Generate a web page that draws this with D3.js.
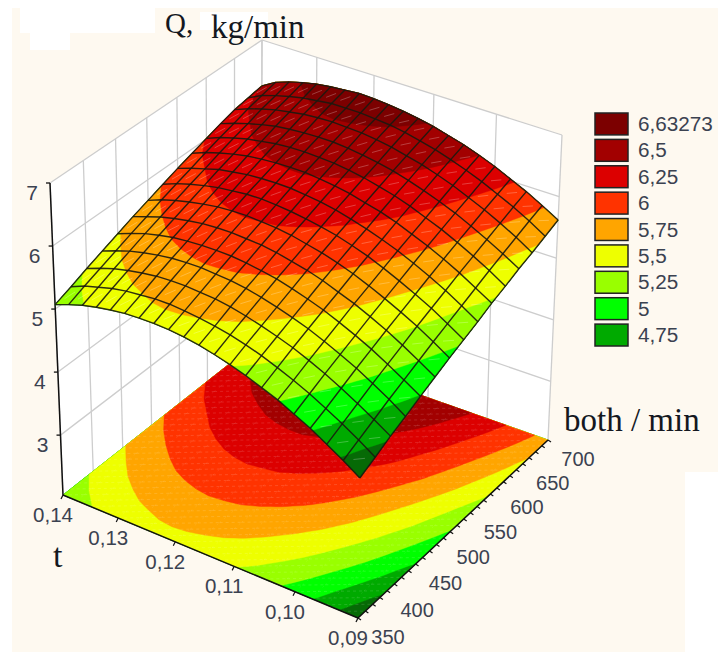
<!DOCTYPE html>
<html lang="en">
<head>
<meta charset="utf-8">
<title>Q surface</title>
<script src="https://cdnjs.cloudflare.com/ajax/libs/d3/7.8.5/d3.min.js"></script>
<style>
  html, body { margin: 0; padding: 0; background: #fff; }
  svg { display: block; }
  .num { font-family: "Liberation Sans", Arial, sans-serif; fill: #3b4250; }
  .ttl { font-family: "Liberation Serif", "Times New Roman", serif; fill: #14181f; }
</style>
</head>
<body>
<div id="chart"></div>
<script>
const tTicks = [0.14, 0.13, 0.12, 0.11, 0.10, 0.09];
const bothTicks = [350, 400, 450, 500, 550, 600, 650, 700];
const qTicks = [3, 4, 5, 6, 7];

const legendLabels = ["6,63273", "6,5", "6,25", "6", "5,75", "5,5", "5,25", "5", "4,75"];
const legendColors = ["#7c0000", "#a20000", "#dc0000", "#ff3300", "#ffa500", "#eeff00", "#99ff00", "#00ff00", "#00aa00"];
// lower edge of each band, darkest green first
const bandEdges = [4.5, 4.75, 5, 5.25, 5.5, 5.75, 6, 6.25, 6.5];
const bandColors = ["#00aa00", "#00ff00", "#99ff00", "#eeff00", "#ffa500", "#ff3300", "#dc0000", "#a20000", "#7c0000"];
const lowestColor = "#066a06";

// mesh nodes: t along a row, both down the rows
const tGrid = [0.14, 0.1375, 0.135, 0.1325, 0.13, 0.1275, 0.125, 0.1225, 0.12, 0.1175, 0.115,
  0.1125, 0.11, 0.1075, 0.105, 0.1025, 0.10, 0.0975, 0.095, 0.0925, 0.09];
const bothGrid = [350, 375, 400, 425, 450, 475, 500, 525, 550, 575, 600, 625, 650, 675, 700];

const qRows = [
  [5.07,5.16,5.24,5.30,5.35,5.39,5.41,5.42,5.42,5.40,5.37,5.32,5.26,5.19,5.10,5.01,4.89,4.77,4.62,4.47,4.30],
  [5.17,5.27,5.34,5.41,5.46,5.49,5.52,5.53,5.52,5.50,5.47,5.43,5.37,5.30,5.21,5.11,5.00,4.87,4.73,4.58,4.41],
  [5.28,5.37,5.45,5.51,5.56,5.60,5.62,5.63,5.62,5.61,5.58,5.53,5.47,5.40,5.32,5.22,5.11,4.98,4.84,4.69,4.53],
  [5.38,5.47,5.55,5.61,5.66,5.70,5.72,5.73,5.72,5.71,5.68,5.63,5.57,5.50,5.42,5.32,5.21,5.09,4.95,4.80,4.63],
  [5.48,5.57,5.65,5.71,5.76,5.79,5.81,5.82,5.82,5.80,5.77,5.73,5.67,5.60,5.52,5.42,5.31,5.19,5.05,4.90,4.74],
  [5.58,5.66,5.74,5.80,5.85,5.89,5.91,5.92,5.91,5.90,5.87,5.82,5.77,5.70,5.61,5.52,5.41,5.29,5.15,5.00,4.84],
  [5.67,5.76,5.83,5.89,5.94,5.98,6.00,6.01,6.00,5.99,5.96,5.91,5.86,5.79,5.71,5.61,5.50,5.38,5.25,5.10,4.94],
  [5.76,5.85,5.92,5.98,6.03,6.06,6.09,6.10,6.09,6.07,6.04,6.00,5.95,5.88,5.80,5.70,5.59,5.47,5.34,5.19,5.03],
  [5.85,5.93,6.00,6.07,6.11,6.15,6.17,6.18,6.18,6.16,6.13,6.09,6.03,5.96,5.88,5.79,5.68,5.56,5.43,5.28,5.12],
  [5.93,6.02,6.09,6.15,6.20,6.23,6.25,6.26,6.26,6.24,6.21,6.17,6.11,6.05,5.97,5.87,5.77,5.65,5.52,5.37,5.22],
  [6.01,6.10,6.17,6.23,6.27,6.31,6.33,6.34,6.33,6.32,6.29,6.25,6.19,6.13,6.05,5.95,5.85,5.73,5.60,5.46,5.30],
  [6.09,6.17,6.24,6.30,6.35,6.38,6.40,6.41,6.41,6.39,6.36,6.32,6.27,6.20,6.12,6.03,5.93,5.81,5.68,5.54,5.39],
  [6.16,6.25,6.32,6.38,6.42,6.46,6.48,6.49,6.48,6.47,6.44,6.40,6.34,6.28,6.20,6.11,6.00,5.89,5.76,5.62,5.46],
  [6.20,6.31,6.38,6.44,6.49,6.52,6.55,6.55,6.55,6.53,6.51,6.47,6.41,6.35,6.27,6.18,6.08,5.96,5.84,5.70,5.54],
  [6.24,6.37,6.45,6.51,6.56,6.59,6.61,6.63,6.62,6.60,6.57,6.53,6.48,6.41,6.34,6.25,6.15,6.03,5.91,5.77,5.62]
];

const w = 718;
const h = 652;

// box corners on screen: L = t .14/both 350, F = t .09/both 350, R = t .09/both 700, B = t .14/both 700
const floorQuad = [[63, 495], [358, 618], [548, 440], [261, 339]];
const roofQuad = [[50, 183], [362, 310], [562, 135], [262, 40]];

const uScale = d3.scaleLinear().domain([0.14, 0.09]).range([0, 1]);
const fScale = d3.scaleLinear().domain([350, 700]).range([0, 1]);
const zScale = d3.scaleLinear().domain([2.05, 7]).range([0, 1]);

// unit square -> quad, plain projective map
function quadMap(q) {
  const [p0, p1, p2, p3] = q;
  const dx1 = p1[0] - p2[0], dx2 = p3[0] - p2[0], sx = p0[0] - p1[0] + p2[0] - p3[0];
  const dy1 = p1[1] - p2[1], dy2 = p3[1] - p2[1], sy = p0[1] - p1[1] + p2[1] - p3[1];
  const den = dx1 * dy2 - dx2 * dy1;
  const g = (sx * dy2 - dx2 * sy) / den;
  const k = (dx1 * sy - sx * dy1) / den;
  const a = p1[0] - p0[0] + g * p1[0], b = p3[0] - p0[0] + k * p3[0];
  const d = p1[1] - p0[1] + g * p1[1], e = p3[1] - p0[1] + k * p3[1];
  return (u, f) => {
    const n = g * u + k * f + 1;
    return [(a * u + b * f + p0[0]) / n, (d * u + e * f + p0[1]) / n];
  };
}
const floorMap = quadMap(floorQuad);
const roofMap = quadMap(roofQuad);

function project(u, f, z) {
  const lo = floorMap(u, f), hi = roofMap(u, f);
  return [lo[0] + (hi[0] - lo[0]) * z, lo[1] + (hi[1] - lo[1]) * z];
}
const onAxes = (t, both, q) => project(uScale(t), fScale(both), zScale(q));

const svg = d3.select("#chart").append("svg").attr("width", w).attr("height", h);

// paper
svg.append("rect").attr("x", 12).attr("y", 8).attr("width", w - 12).attr("height", h - 8).attr("fill", "#fef9f0");
svg.append("rect").attr("x", 20).attr("y", 8).attr("width", 135).attr("height", 25).attr("fill", "#fff");
svg.append("rect").attr("x", 30).attr("y", 30).attr("width", 40).attr("height", 20).attr("fill", "#fff");
svg.append("rect").attr("x", 200).attr("y", 12).attr("width", 68).attr("height", 18).attr("fill", "#fff");
svg.append("rect").attr("x", 685).attr("y", 472).attr("width", 33).attr("height", 180).attr("fill", "#fff");

const poly = pts => "M" + pts.map(p => p[0].toFixed(2) + "," + p[1].toFixed(2)).join("L") + "Z";
const seg = (g, a, b, col, sw) => g.append("line")
  .attr("x1", a[0]).attr("y1", a[1]).attr("x2", b[0]).attr("y2", b[1])
  .attr("stroke", col).attr("stroke-width", sw);

// back walls
const walls = svg.append("g");
walls.append("path").attr("fill", "#fff").attr("d", poly([
  onAxes(0.14, 350, 2.05), onAxes(0.14, 700, 2.05), onAxes(0.14, 700, 7), onAxes(0.14, 350, 7)]));
walls.append("path").attr("fill", "#fff").attr("d", poly([
  onAxes(0.14, 700, 2.05), onAxes(0.09, 700, 2.05), onAxes(0.09, 700, 7), onAxes(0.14, 700, 7)]));
const gridCol = "#cdcdcd";
bothTicks.forEach(b => seg(walls, onAxes(0.14, b, 2.05), onAxes(0.14, b, 7), gridCol, 1.3));
tTicks.forEach(t => seg(walls, onAxes(t, 700, 2.05), onAxes(t, 700, 7), gridCol, 1.3));
qTicks.forEach(q => {
  seg(walls, onAxes(0.14, 350, q), onAxes(0.14, 700, q), gridCol, 1.3);
  seg(walls, onAxes(0.14, 700, q), onAxes(0.09, 700, q), gridCol, 1.3);
});

// contour bands, computed on the grid then pushed through the projection
const nC = tGrid.length, nR = bothGrid.length;
const flat = qRows.flat();
const contourGen = d3.contours().size([nC, nR]).smooth(true);

function qAt(cx, ry) {
  const c0 = Math.min(Math.floor(cx), nC - 2), r0 = Math.min(Math.floor(ry), nR - 2);
  const a = cx - c0, b = ry - r0;
  return d3.interpolateNumber(
    d3.interpolateNumber(qRows[r0][c0], qRows[r0][c0 + 1])(a),
    d3.interpolateNumber(qRows[r0 + 1][c0], qRows[r0 + 1][c0 + 1])(a))(b);
}
const toGrid = v => [Math.max(0, Math.min(nC - 1, v[0] - 0.5)), Math.max(0, Math.min(nR - 1, v[1] - 0.5))];

// walk a ring and cut long edges so it follows the bent surface
function denseRing(ring) {
  const out = [];
  for (let i = 0; i < ring.length - 1; i++) {
    const a = toGrid(ring[i]), b = toGrid(ring[i + 1]);
    const steps = Math.max(1, Math.ceil(Math.hypot(b[0] - a[0], b[1] - a[1]) * 3));
    for (let s = 0; s < steps; s++) out.push([a[0] + (b[0] - a[0]) * s / steps, a[1] + (b[1] - a[1]) * s / steps]);
  }
  return out;
}
function bandPath(contour, toScreen) {
  return contour.coordinates.map(polygon => polygon.map(ring => poly(denseRing(ring).map(toScreen))).join("")).join("");
}
const cellU = c => c / (nC - 1), cellF = r => r / (nR - 1);
const floorPoint = p => project(cellU(p[0]), cellF(p[1]), 0);
const surfPoint = p => project(cellU(p[0]), cellF(p[1]), zScale(qAt(p[0], p[1])));

const allEdges = [0].concat(bandEdges);
const allColors = [lowestColor].concat(bandColors);
const bands = allEdges.map((e, i) => ({ contour: contourGen.contour(flat, e), color: allColors[i] }));

// floor
const floorG = svg.append("g");
bands.forEach(b => floorG.append("path").attr("d", bandPath(b.contour, floorPoint))
  .attr("fill", b.color).attr("fill-rule", "evenodd").attr("stroke", b.color).attr("stroke-width", 0.4));
// faint triangulation left on the floor
for (let r = 0; r < nR - 1; r += 0.5) {
  for (let c = 0; c < nC - 1; c++) {
    seg(floorG, floorPoint([c, r]), floorPoint([c + 1, r + 0.5]), "#fff", 0.6)
      .attr("stroke-opacity", 0.22).attr("stroke-dasharray", "3 3");
    seg(floorG, floorPoint([c + 1, r]), floorPoint([c + 1, r + 0.5]), "#fff", 0.6)
      .attr("stroke-opacity", 0.14).attr("stroke-dasharray", "2 4");
  }
}

// axes on the floor edges and the left post
const axisG = svg.append("g");
seg(axisG, onAxes(0.14, 350, 2.05), onAxes(0.09, 350, 2.05), "#111", 1.5);
seg(axisG, onAxes(0.09, 350, 2.05), onAxes(0.09, 700, 2.05), "#111", 1.5);
seg(axisG, onAxes(0.14, 350, 2.05), onAxes(0.14, 350, 7), "#111", 1.5);

tTicks.forEach(t => {
  const p = onAxes(t, 350, 2.05);
  seg(axisG, p, [p[0] - 2, p[1] + 4], "#111", 1.2);
  axisG.append("text").attr("class", "num").attr("font-size", 20.5).attr("text-anchor", "middle")
    .attr("x", p[0] - 10).attr("y", p[1] + 27).text(d3.format(".2f")(t).replace(".", ","));
});
d3.range(350, 700.1, 12.5).forEach(b => {
  const p = onAxes(0.09, b, 2.05);
  seg(axisG, p, [p[0] + 3, p[1] + 2], "#111", 1.2);
});
bothTicks.forEach(b => {
  const p = onAxes(0.09, b, 2.05);
  axisG.append("text").attr("class", "num").attr("font-size", 20).attr("text-anchor", "middle")
    .attr("x", p[0] + 30).attr("y", p[1] + 26).text(b);
});
qTicks.forEach(q => {
  const p = onAxes(0.14, 350, q);
  seg(axisG, p, [p[0] - 4, p[1]], "#111", 1.3);
  axisG.append("text").attr("class", "num").attr("font-size", 21).attr("text-anchor", "middle")
    .attr("x", p[0] - 18).attr("y", p[1] + 17).text(q);
});

// surface
const surfG = svg.append("g");
bands.forEach(b => surfG.append("path").attr("d", bandPath(b.contour, surfPoint))
  .attr("fill", b.color).attr("fill-rule", "evenodd").attr("stroke", b.color).attr("stroke-width", 0.4));

for (let r = 0; r < nR - 1; r++) {
  for (let c = 0; c < nC - 1; c++) {
    const a = surfPoint([c, r]), d = surfPoint([c + 1, r + 1]);
    const m1 = [a[0] + (d[0] - a[0]) * 0.32, a[1] + (d[1] - a[1]) * 0.32];
    const m2 = [a[0] + (d[0] - a[0]) * 0.68, a[1] + (d[1] - a[1]) * 0.68];
    seg(surfG, m1, m2, "#fff", 0.9).attr("stroke-opacity", 0.28);
  }
}

const meshLine = d3.line().x(d => d[0]).y(d => d[1]);
const meshG = surfG.append("g").attr("fill", "none").attr("stroke", "#1a1a10").attr("stroke-width", 1.4).attr("stroke-opacity", 0.9);
qRows.forEach((row, r) => {
  meshG.append("path").attr("d", meshLine(row.map((q, c) => onAxes(tGrid[c], bothGrid[r], q))));
});
tGrid.forEach((t, c) => {
  meshG.append("path").attr("d", meshLine(qRows.map((row, r) => onAxes(t, bothGrid[r], row[c]))));
});

// titles
svg.append("text").attr("class", "ttl").attr("font-size", 29).attr("x", 165).attr("y", 33).text("Q,");
svg.append("text").attr("class", "ttl").attr("font-size", 33).attr("x", 211).attr("y", 38).text("kg/min");
svg.append("text").attr("class", "ttl").attr("font-size", 33).attr("x", 564).attr("y", 431).text("both / min");
svg.append("text").attr("class", "ttl").attr("font-size", 34).attr("x", 53).attr("y", 567).text("t");

// legend
const legendY = d3.scaleBand().domain(legendLabels).range([113, 346]).paddingInner(0.17);
const legend = svg.append("g");
legend.selectAll("rect").data(legendLabels).enter().append("rect")
  .attr("x", 595).attr("y", d => legendY(d)).attr("width", 33).attr("height", legendY.bandwidth())
  .attr("fill", (d, i) => legendColors[i]).attr("stroke", "#222").attr("stroke-width", 1.5);
legend.selectAll("text").data(legendLabels).enter().append("text")
  .attr("class", "num").attr("font-size", 20.7).attr("x", 638)
  .attr("y", d => legendY(d) + legendY.bandwidth() / 2 + 7).text(d => d);
</script>
</body>
</html>
